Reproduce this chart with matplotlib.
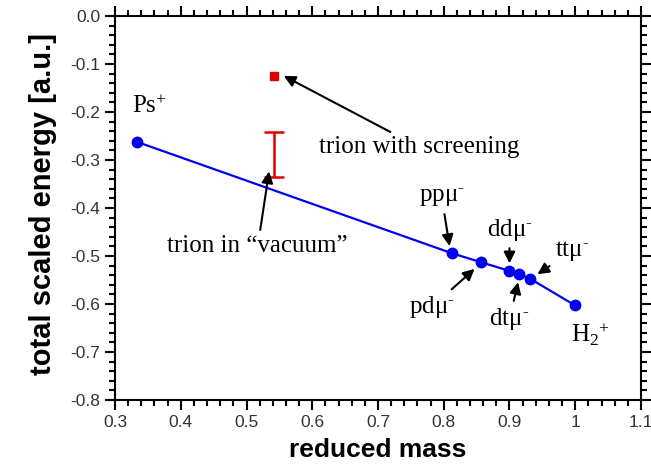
import matplotlib
matplotlib.use("Agg")
import matplotlib.pyplot as plt
from matplotlib.ticker import MultipleLocator, FormatStrFormatter

plt.rcParams["mathtext.fontset"] = "custom"
plt.rcParams["mathtext.rm"] = "Liberation Serif"
plt.rcParams["mathtext.it"] = "Liberation Serif:italic"
plt.rcParams["mathtext.bf"] = "Liberation Serif:bold"

# blue series: muonic / exotic three-body systems
names = ["Ps$^{+}$", "pp\u03bc$^{\\text{-}}$", "pd\u03bc$^{\\text{-}}$", "dd\u03bc$^{\\text{-}}$",
         "dt\u03bc$^{\\text{-}}$", "tt\u03bc$^{\\text{-}}$", "H$_2$$^{+}$"]
mass = [0.333, 0.812, 0.857, 0.900, 0.915, 0.931, 1.000]
energy = [-0.262, -0.494, -0.513, -0.531, -0.538, -0.547, -0.603]

# trion values
trion_mass = 0.542
trion_screen = -0.124
trion_vac_lo = -0.336
trion_vac_hi = -0.242

serif = "Liberation Serif"
sans = "Liberation Sans"

fig = plt.figure(figsize=(6.51, 4.72), dpi=100)
ax = fig.add_axes([0.1767, 0.1525, 0.8079, 0.8135])

ax.plot(mass, energy, color="#0000ee", lw=1.6, marker="o", ms=7.5, zorder=3)

# trion in vacuum: range bar
half = (trion_vac_hi - trion_vac_lo) / 2
ax.errorbar([trion_mass], [(trion_vac_lo + trion_vac_hi) / 2], yerr=[[half], [half]],
            fmt="none", ecolor="#dd0000", elinewidth=1.8, capsize=7, capthick=1.8)
# trion with screening
ax.plot([trion_mass], [trion_screen], marker="s", color="#dd0000", ms=6, ls="none")

ax.set_xlim(0.3, 1.1)
ax.set_ylim(-0.8, 0.0)
ax.xaxis.set_minor_locator(MultipleLocator(0.02))
ax.yaxis.set_major_locator(MultipleLocator(0.1))
ax.yaxis.set_minor_locator(MultipleLocator(0.02))
ax.yaxis.set_major_formatter(FormatStrFormatter("%.1f"))
ax.set_xticks([0.3, 0.4, 0.5, 0.6, 0.7, 0.8, 0.9, 1.0, 1.1])
ax.set_xticklabels(["0.3", "0.4", "0.5", "0.6", "0.7", "0.8", "0.9", "1", "1.1"])

ax.tick_params(which="both", direction="out", top=True, right=True, width=1.5,
               labelsize=12.5, colors="black")
ax.tick_params(which="major", length=7)
ax.tick_params(which="minor", length=4)
for lab in ax.get_xticklabels() + ax.get_yticklabels():
    lab.set_family(sans)
    lab.set_color("#333333")
for s in ax.spines.values():
    s.set_linewidth(1.5)

ax.set_xlabel("reduced mass", fontsize=19, fontweight="bold", family=sans, labelpad=6)
ax.set_ylabel("total scaled energy [a.u.]", fontsize=21, fontweight="bold", family=sans)
ax.yaxis.set_label_coords(-0.11, 0.51)

arrow = dict(arrowstyle="-|>", color="black", lw=1.5, mutation_scale=17)
tfont = dict(fontsize=18, family=serif)

# labels on the series
ax.text(0.352, -0.188, names[0], ha="center", va="center", **tfont)
ax.annotate(names[1], xy=(0.8095, -0.485), xytext=(0.797, -0.378),
            ha="center", va="center", arrowprops=arrow, **tfont)
ax.annotate(names[2], xy=(0.850, -0.523), xytext=(0.782, -0.606),
            ha="center", va="center", arrowprops=arrow, **tfont)
ax.annotate(names[3], xy=(0.900, -0.521), xytext=(0.9, -0.445),
            ha="center", va="center", arrowprops=arrow, **tfont)
ax.annotate(names[4], xy=(0.914, -0.549), xytext=(0.9, -0.632),
            ha="center", va="center", arrowprops=arrow, **tfont)
ax.annotate(names[5], xy=(0.939, -0.541), xytext=(0.995, -0.49),
            ha="center", va="center", arrowprops=arrow, **tfont)
ax.text(0.993, -0.663, names[6], ha="left", va="center", **tfont)

ax.annotate("trion with screening", xy=(0.553, -0.122), xytext=(0.61, -0.273),
            ha="left", va="center", arrowprops=arrow, **tfont)
ax.annotate("trion in \u201cvacuum\u201d", xy=(0.535, -0.318), xytext=(0.517, -0.48),
            ha="center", va="center", arrowprops=arrow, **tfont)

fig.savefig("out.png", dpi=100)
